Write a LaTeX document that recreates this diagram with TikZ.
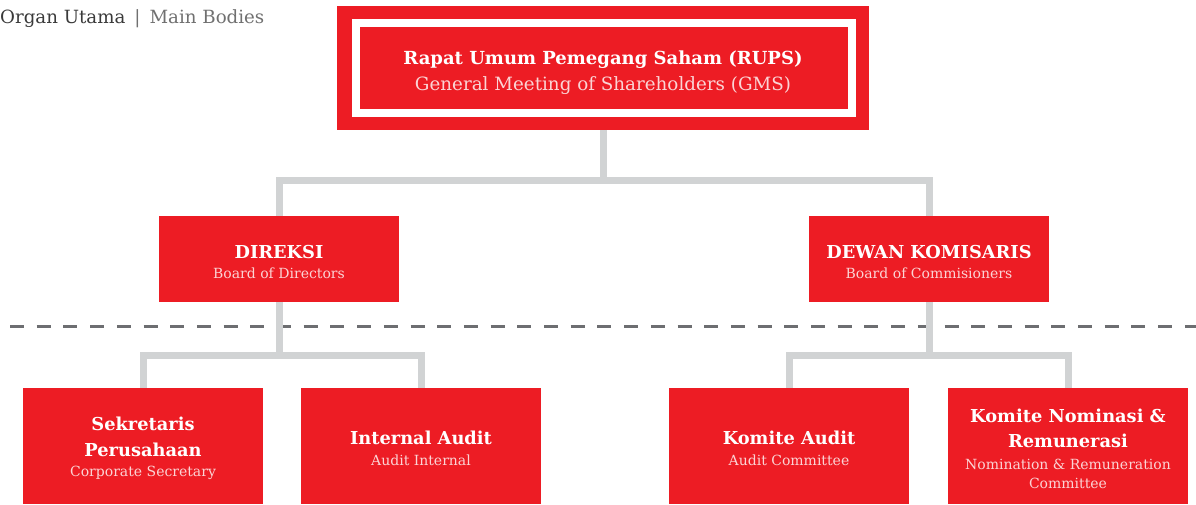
\documentclass[tikz,border=0pt]{standalone}
\usepackage{fontspec}
\usetikzlibrary{calc}
\setmainfont{DejaVu Serif}
\definecolor{brand}{HTML}{ED1C24}
\definecolor{connc}{HTML}{D1D3D4}
\definecolor{dashc}{HTML}{6D6E71}
\definecolor{subc}{RGB}{251,212,213}
\definecolor{hdrA}{HTML}{3A3A3A}
\definecolor{hdrB}{HTML}{707070}
\newcommand\bT{\fontsize{17.8}{20}\selectfont\bfseries\color{white}}
\newcommand\sT{\fontsize{14}{20}\selectfont\mdseries\color{subc}}
\newcommand\lowstrut{\rule{0pt}{19pt}}
\tikzset{
  redbox/.style={fill=brand, draw=none, minimum width=240pt, inner sep=0pt, align=center,
    font=\fontsize{14}{20}\selectfont},
  midbox/.style={redbox, minimum height=86pt},
  lowbox/.style={redbox, minimum height=116pt},
  conn/.style={draw=connc, line width=7pt},
  dashline/.style={draw=dashc, line width=3pt, dash pattern=on 14pt off 12.7pt},
}
\begin{document}
\begin{tikzpicture}[x=1pt,y=-1pt]
\useasboundingbox (0,0) rectangle (1196,504);
% header
\node[anchor=base west, inner sep=0pt, font=\fontsize{18.2}{22}\selectfont] (hdr) at (0,23.5)
  {\color{hdrA}Organ Utama\hspace{9pt}{\color{hdrB}|\hspace{9pt}Main Bodies}};
% dashed separator
\coordinate (dl) at (10,326.5);
\coordinate (dr) at (1196,326.5);
\draw[dashline] (dl) -- (dr);
% top box
\node[fill=brand, minimum width=532pt, minimum height=124pt, inner sep=0pt] (rups) at (603,68) {};
\draw[white, line width=8pt] ($(rups.north west)+(19,17)$) rectangle ($(rups.south east)+(-17,-17.5)$);
\node[align=center, inner sep=0pt, font=\fontsize{18}{26}\selectfont] (rupst) at (603,73)
  {\bfseries\color{white}Rapat Umum Pemegang Saham (RUPS)\\
   \fontsize{18.3}{26}\selectfont\mdseries\color{subc}General Meeting of Shareholders (GMS)};
% second level
\node[midbox] (dir) at (279,259) {\lowstrut\bT DIREKSI\\\sT Board of Directors};
\node[midbox] (dk) at (929,259) {\lowstrut\bT DEWAN KOMISARIS\\\sT Board of Commisioners};
% third level
\node[lowbox] (sek) at (143,446) {\lowstrut\bT Sekretaris\\[6pt]\bT Perusahaan\\\sT Corporate Secretary};
\node[lowbox] (ia) at (421,446) {\lowstrut\bT Internal Audit\\[1pt]\sT Audit Internal};
\node[lowbox] (ka) at (789,446) {\lowstrut\bT Komite Audit\\[1pt]\sT Audit Committee};
\node[lowbox] (kn) at (1068,446) {\lowstrut\bT Komite Nominasi \&\\[5pt]\bT Remunerasi\\[2pt]\sT Nomination \& Remuneration\\[-1pt]\sT Committee};
% connectors
\draw[conn] (rups.south) -- ++(0,50.5) -| (dir.north);
\draw[conn] (rups.south) -- ++(0,50.5) -| (dk.north);
\draw[conn] (dir.south) -- ++(0,53.5) -| (sek.north);
\draw[conn] (dir.south) -- ++(0,53.5) -| (ia.north);
\draw[conn] (dk.south) -- ++(0,53.5) -| (ka.north);
\draw[conn] (dk.south) -- ++(0,53.5) -| (kn.north);
\end{tikzpicture}
\end{document}
